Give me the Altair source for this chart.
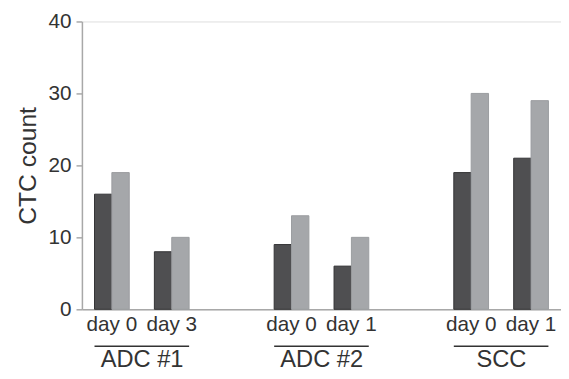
import altair as alt
import pandas as pd

groups = ["ADC #1", "ADC #2", "SCC"]
days = [["day 0", "day 3"], ["day 0", "day 1"], ["day 0", "day 1"]]
dark_values = [16, 8, 9, 6, 19, 21]
light_values = [19, 10, 13, 10, 30, 29]
y_ticks = [0, 10, 20, 30, 40]

keys = []
for g, dl in zip(groups, days):
    for d in dl:
        keys.append(f"{g}|{d}")

domain = [keys[0], keys[1], "gap1|", keys[2], keys[3], "gap2|", keys[4], keys[5]]

rows = []
for k, dv, lv in zip(keys, dark_values, light_values):
    rows.append({"key": k, "series": "a", "value": dv})
    rows.append({"key": k, "series": "b", "value": lv})
df = pd.DataFrame(rows)

grp = pd.DataFrame({
    "group": groups,
    "first": [f"{g}|{dl[0]}" for g, dl in zip(groups, days)],
    "second": [f"{g}|{dl[1]}" for g, dl in zip(groups, days)],
})

FONT = "Liberation Sans"
TXT = "#333333"
AX = "#a8a8a8"

xscale = alt.Scale(domain=domain, paddingInner=0.42, paddingOuter=0.21)

bars = alt.Chart(df).mark_bar(strokeWidth=1).encode(
    x=alt.X("key:N", scale=xscale, sort=domain,
            axis=alt.Axis(title=None, labelExpr="slice(datum.value, indexof(datum.value, '|') + 1)",
                          labelAngle=0, ticks=False, domainColor=AX, domainWidth=1.5,
                          labelFont=FONT, labelFontSize=21, labelColor=TXT, labelPadding=4)),
    xOffset=alt.XOffset("series:N", scale=alt.Scale(paddingInner=0, paddingOuter=0)),
    y=alt.Y("value:Q", scale=alt.Scale(domain=[0, 40]),
            axis=alt.Axis(title="CTC count", values=y_ticks, grid=False, tickSize=6,
                          tickColor=AX, domainColor=AX, domainWidth=1.5, tickWidth=1.5,
                          labelFont=FONT, labelFontSize=21, labelColor=TXT, labelPadding=5,
                          titleFont=FONT, titleFontSize=25, titleFontWeight="normal",
                          titleColor=TXT, titlePadding=8)),
    color=alt.Color("series:N", scale=alt.Scale(domain=["a", "b"], range=["#4f4f51", "#a5a7aa"]), legend=None),
    stroke=alt.Stroke("series:N", scale=alt.Scale(domain=["a", "b"], range=["#333335", "#9a9c9f"]), legend=None),
)

lines = alt.Chart(grp).mark_rule(color="#333333", strokeWidth=1.5).encode(
    x=alt.X("first:N", scale=xscale, sort=domain, bandPosition=0),
    x2=alt.X2("second:N", bandPosition=1),
    y=alt.value(329.5),
)

labels = alt.Chart(grp).mark_text(font=FONT, fontSize=24, color=TXT, baseline="alphabetic", dx=13).encode(
    x=alt.X("first:N", scale=xscale, sort=domain, bandPosition=1),
    y=alt.value(351),
    text="group:N",
)

chart = alt.layer(bars, lines, labels).properties(
    width=486, height=292,
    padding={"left": 75, "top": 11, "right": 0, "bottom": 66},
    autosize=alt.AutoSizeParams(type="none"),
).configure_view(stroke=None).configure(background="white")

chart.save("out.html", embed_options={"renderer": "svg", "actions": False})
